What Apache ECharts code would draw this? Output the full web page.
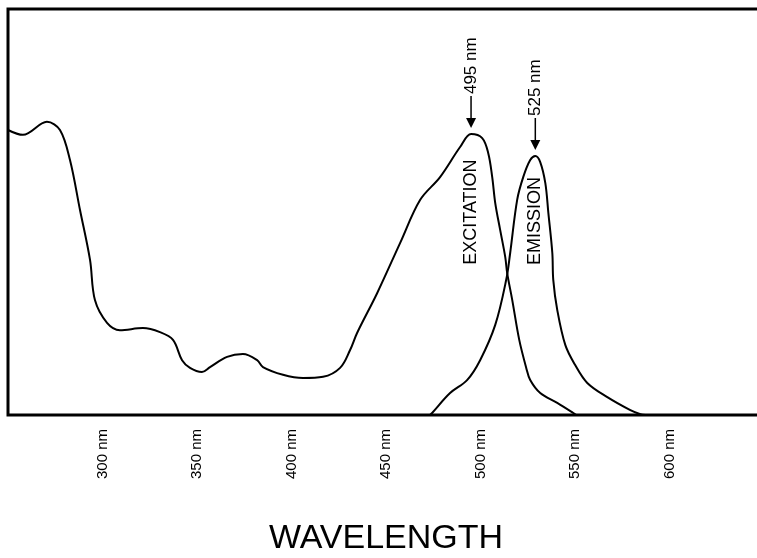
<!DOCTYPE html>
<html><head><meta charset="utf-8">
<script src="https://cdn.jsdelivr.net/npm/echarts@6/dist/echarts.min.js"></script>
<style>html,body{margin:0;padding:0;background:#fff}#c{width:757px;height:558px}</style>
</head><body><div id="c"></div>
<script>
// Axis ticks (nm)
const tickLabels = [300, 350, 400, 450, 500, 550, 600];
const axisTitle = 'WAVELENGTH';

// Excitation spectrum (wavelength nm, relative intensity)
const excitationNm = [250.0,257.9,270.6,277.5,282.8,288.1,293.4,296.0,302.4,309.2,321.4,330.4,337.3,342.1,346.3,352.6,356.9,365.9,374.3,381.8,384.9,395.5,406.1,416.7,425.7,431.0,434.7,445.3,457.5,468.1,478.6,489.2,495.0,500.9,504.1,506.2,507.8,510.4,513.1,514.1,516.8,520.5,524.2,526.3,531.6,540.6,549.1,550.6];
const excitationVal = [70.2,69.0,72.2,70.2,62.8,50.5,38.2,28.3,22.7,20.9,21.4,20.4,18.5,13.5,11.6,10.6,11.8,14.3,15.0,13.5,11.8,9.9,9.1,9.4,11.6,16.0,20.2,30.0,42.4,53.0,58.6,66.0,69.2,68.2,64.5,58.6,52.2,45.6,38.9,35.0,28.3,18.5,11.6,8.6,5.4,3.0,0.5,0];

// Emission spectrum
const emissionNm = [473.3,474.4,483.9,492.9,499.8,507.8,513.6,515.7,519.4,522.6,526.3,529.0,531.6,534.3,535.9,538.0,538.5,540.6,544.9,550.1,556.5,567.1,579.3,584.6,587.3];
const emissionVal = [0,0.5,5.4,8.6,13.5,22.2,33.3,39.9,53.0,58.6,62.8,63.8,62.3,57.1,49.8,39.9,33.3,25.9,17.2,12.3,7.9,4.4,1.2,0.2,0];

// Peak annotations
const peakLabels = ['495 nm', '525 nm'];
const curveNames = ['EXCITATION', 'EMISSION'];

const FONT = '"Liberation Sans", Arial, Helvetica, sans-serif';
const zip = (a, b) => a.map((v, i) => [v, b[i]]);

const chart = echarts.init(document.getElementById('c'), null, {renderer: 'canvas'});
chart.setOption({
  animation: false,
  backgroundColor: '#fff',
  grid: {left: 8, top: 9, right: -7, bottom: 143, show: true, borderColor: '#000', borderWidth: 3,
         containLabel: false, outerBoundsMode: 'none'},
  xAxis: {
    type: 'value', min: 250, max: 650, interval: 50,
    axisLine: {show: false}, axisTick: {show: false}, splitLine: {show: false},
    axisLabel: {
      rotate: 90, margin: 14, fontSize: 15, color: '#000', fontFamily: FONT,
      formatter: v => tickLabels.includes(v) ? v + ' nm' : ''
    },
    name: axisTitle, nameLocation: 'middle', nameGap: 107,
    nameTextStyle: {fontSize: 34, color: '#000', fontFamily: FONT}
  },
  yAxis: {
    type: 'value', min: 0, max: 100,
    axisLine: {show: false}, axisTick: {show: false}, splitLine: {show: false}, axisLabel: {show: false}
  },
  series: [
    {type: 'line', name: curveNames[0], data: zip(excitationNm, excitationVal), smooth: 0.35, showSymbol: false,
     lineStyle: {color: '#000', width: 2}},
    {type: 'line', name: curveNames[1], data: zip(emissionNm, emissionVal), smooth: 0.35, showSymbol: false,
     lineStyle: {color: '#000', width: 2}}
  ]
});

// annotations anchored at each curve's main visible-band peak (beyond 450 nm)
const series = [[excitationNm, excitationVal], [emissionNm, emissionVal]];
const nameOffsets = [78, 65];
const graphics = [];
series.forEach(([xs, ys], i) => {
  let k = -1;
  ys.forEach((v, j) => { if (xs[j] > 450 && (k < 0 || v > ys[k])) k = j; });
  const p = chart.convertToPixel({gridIndex: 0}, [xs[k], ys[k]]);
  const tip = p[1] - 6;
  const top = tip - 32;
  graphics.push({type: 'line', shape: {x1: p[0], y1: top, x2: p[0], y2: tip - 8}, style: {stroke: '#000', lineWidth: 1.5}});
  graphics.push({type: 'polygon', shape: {points: [[p[0] - 5, tip - 10], [p[0] + 5, tip - 10], [p[0], tip]]}, style: {fill: '#000'}});
  graphics.push({type: 'text', x: p[0], y: top - 2, rotation: Math.PI / 2,
    style: {text: peakLabels[i], font: '17px ' + FONT, fill: '#000', textAlign: 'left', textVerticalAlign: 'middle'}});
  graphics.push({type: 'text', x: p[0], y: p[1] + nameOffsets[i], rotation: Math.PI / 2,
    style: {text: curveNames[i], font: '18px ' + FONT, fill: '#000', textAlign: 'center', textVerticalAlign: 'middle'}});
});
chart.setOption({graphic: graphics});
</script>
</body></html>
